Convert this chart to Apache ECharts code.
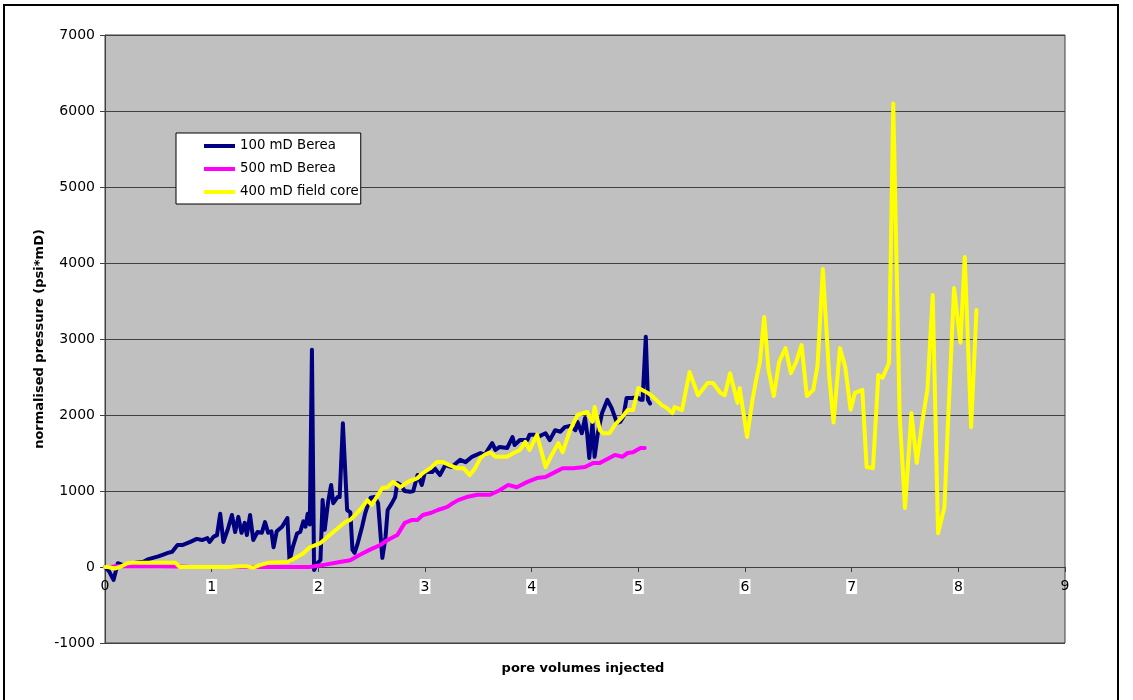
<!DOCTYPE html>
<html>
<head>
<meta charset="utf-8">
<script src="https://cdn.jsdelivr.net/npm/echarts@6/dist/echarts.min.js"></script>
<style>
  html, body { margin: 0; padding: 0; background: #ffffff; }
  #chart { width: 1133px; height: 700px; }
</style>
</head>
<body>
<div id="chart"></div>
<script>
// Pressure build-up during foam injection in three cores
const seriesNames = ['100 mD Berea', '500 mD Berea', '400 mD field core'];
const xTickLabels = ['0', '1', '2', '3', '4', '5', '6', '7', '8', '9'];
const yTickLabels = ['-1000', '0', '1000', '2000', '3000', '4000', '5000', '6000', '7000'];

// 100 mD Berea: pore volumes injected / normalised pressure (psi*mD)
const berea100PV = [
  0.00, 0.04, 0.08, 0.12, 0.17, 0.23, 0.30, 0.36, 0.40, 0.45, 0.50, 0.54, 0.59, 0.63, 0.68, 0.73,
  0.80, 0.86, 0.91, 0.96, 0.98, 1.02, 1.05, 1.08, 1.11, 1.15, 1.19, 1.22, 1.25, 1.28, 1.31, 1.33,
  1.36, 1.39, 1.43, 1.47, 1.50, 1.53, 1.56, 1.58, 1.61, 1.66, 1.71, 1.73, 1.76, 1.80, 1.83, 1.86,
  1.88, 1.90, 1.92, 1.94, 1.96, 1.99, 2.02, 2.04, 2.06, 2.09, 2.12, 2.14, 2.18, 2.20, 2.23, 2.27,
  2.30, 2.32, 2.34, 2.37, 2.41, 2.44, 2.47, 2.49, 2.53, 2.56, 2.60, 2.63, 2.65, 2.69, 2.72, 2.74,
  2.77, 2.81, 2.86, 2.89, 2.93, 2.97, 3.00, 3.07, 3.09, 3.14, 3.19, 3.25, 3.33, 3.38, 3.44, 3.52,
  3.56, 3.63, 3.66, 3.70, 3.77, 3.82, 3.84, 3.89, 3.96, 3.98, 4.03, 4.06, 4.10, 4.13, 4.17, 4.22,
  4.27, 4.31, 4.36, 4.41, 4.43, 4.47, 4.50, 4.52, 4.54, 4.57, 4.59, 4.62, 4.66, 4.71, 4.75, 4.80,
  4.83, 4.86, 4.89, 4.94, 4.99, 5.02, 5.04, 5.07, 5.09, 5.11
];
const berea100P = [
  0, -60, -170, 50, 25, 40, 60, 70, 100, 120, 140, 160, 185, 200, 290, 290,
  330, 370, 355, 380, 330, 400, 420, 700, 330, 490, 685, 460, 660, 450, 580, 420,
  685, 355, 460, 450, 590, 450, 470, 260, 470, 530, 645, 80, 260, 440, 460, 600,
  530, 700, 560, 2860, -40, 50, 90, 880, 490, 840, 1080, 840, 920, 920, 1890, 750,
  720, 225, 185, 315, 530, 710, 840, 910, 920, 840, 120, 395, 750, 840, 920, 1105,
  1080, 1000, 990, 1000, 1210, 1080, 1250, 1250, 1300, 1210, 1340, 1315, 1410, 1380, 1450, 1500,
  1475, 1630, 1540, 1580, 1565, 1710, 1605, 1670, 1670, 1740, 1740, 1710, 1740, 1760, 1670, 1800,
  1780, 1840, 1855, 1800, 1910, 1760, 1960, 1760, 1435, 1895, 1450, 1760, 2025, 2200, 2090, 1895,
  1910, 1975, 2225, 2225, 2235, 2200, 2200, 3030, 2200, 2150
];

// 500 mD Berea
const berea500PV = [
  0.05, 0.10, 0.30, 0.50, 0.68, 0.80, 1.00, 1.30, 1.60, 1.80, 1.92, 2.04, 2.20, 2.30, 2.39, 2.48,
  2.58, 2.65, 2.74, 2.81, 2.88, 2.93, 2.98, 3.05, 3.12, 3.21, 3.26, 3.31, 3.39, 3.49, 3.61, 3.70,
  3.78, 3.86, 3.96, 4.05, 4.13, 4.20, 4.29, 4.39, 4.50, 4.58, 4.64, 4.71, 4.78, 4.85, 4.90, 4.95,
  5.02, 5.06
];
const berea500P = [
  0, 10, 10, 10, 5, 0, 0, 0, 0, 0, 0, 25, 65, 90, 160, 225,
  290, 355, 420, 580, 620, 620, 685, 710, 750, 790, 840, 880, 920, 950, 950, 1010,
  1080, 1050, 1120, 1170, 1185, 1235, 1300, 1300, 1315, 1370, 1370, 1420, 1475, 1450, 1500, 1510,
  1565, 1565
];

// 400 mD field core
const fieldCorePV = [
  0.00, 0.03, 0.09, 0.14, 0.21, 0.26, 0.42, 0.56, 0.66, 0.70, 0.89, 0.98, 1.17, 1.27, 1.33, 1.39,
  1.45, 1.53, 1.71, 1.80, 1.86, 1.92, 2.02, 2.14, 2.25, 2.30, 2.39, 2.46, 2.50, 2.60, 2.65, 2.70,
  2.77, 2.84, 2.93, 2.98, 3.05, 3.11, 3.17, 3.23, 3.30, 3.36, 3.42, 3.47, 3.52, 3.56, 3.61, 3.66,
  3.77, 3.83, 3.89, 3.94, 3.98, 4.05, 4.13, 4.19, 4.25, 4.29, 4.36, 4.43, 4.52, 4.57, 4.59, 4.64,
  4.67, 4.73, 4.78, 4.85, 4.90, 4.95, 5.00, 5.09, 5.14, 5.22, 5.27, 5.32, 5.34, 5.41, 5.48, 5.56,
  5.65, 5.70, 5.77, 5.81, 5.86, 5.93, 5.95, 6.02, 6.07, 6.11, 6.14, 6.18, 6.22, 6.27, 6.32, 6.38,
  6.43, 6.48, 6.53, 6.58, 6.64, 6.68, 6.73, 6.79, 6.83, 6.89, 6.94, 6.99, 7.03, 7.10, 7.14, 7.20,
  7.25, 7.29, 7.35, 7.39, 7.45, 7.50, 7.56, 7.61, 7.66, 7.71, 7.76, 7.81, 7.87, 7.90, 7.96, 8.02,
  8.06, 8.12, 8.17
];
const fieldCoreP = [
  0, 0, -20, 0, 50, 55, 55, 55, 55, 0, 0, 0, 0, 10, 10, -10,
  25, 55, 65, 130, 180, 260, 315, 460, 590, 620, 750, 880, 815, 1040, 1050, 1120,
  1050, 1120, 1170, 1235, 1300, 1380, 1380, 1340, 1300, 1300, 1210, 1300, 1435, 1475, 1510, 1450,
  1450, 1500, 1540, 1645, 1540, 1740, 1315, 1480, 1630, 1510, 1800, 2000, 2040, 1910, 2105, 1800,
  1760, 1760, 1870, 1975, 2065, 2065, 2355, 2290, 2235, 2130, 2090, 2025, 2105, 2065, 2565, 2260,
  2420, 2420, 2290, 2260, 2550, 2160, 2355, 1710, 2200, 2500, 2700, 3290, 2600, 2250, 2700, 2880,
  2550, 2700, 2920, 2250, 2330, 2650, 3920, 2500, 1900, 2880, 2630, 2070, 2290, 2330, 1315, 1300,
  2525, 2490, 2685, 6100, 2000, 775, 2025, 1370, 1895, 2330, 3580, 445, 790, 1800, 3670, 2950,
  4080, 1840, 3380
];

const seriesColors = ['#000080', '#ff00ff', '#ffff00'];
const pairs = (xs, ys) => xs.map((x, i) => [x, ys[i]]);
const seriesData = [
  pairs(berea100PV, berea100P),
  pairs(berea500PV, berea500P),
  pairs(fieldCorePV, fieldCoreP)
];

const FONT = 'DejaVu Sans';
const Y_MIN = -1000, Y_MAX = 7000;
const GRID = { left: 105, right: 68, top: 35, bottom: 57 };
const plotHeight = 700 - GRID.top - GRID.bottom;
// lift the x axis (line, ticks, labels) from the bottom edge up to y = 0
const zeroOffset = -plotHeight * (0 - Y_MIN) / (Y_MAX - Y_MIN);

const chart = echarts.init(document.getElementById('chart'), null, { renderer: 'canvas' });

chart.setOption({
  animation: false,
  backgroundColor: '#ffffff',
  textStyle: { fontFamily: FONT },
  grid: Object.assign({
    show: true,
    backgroundColor: '#c0c0c0',
    borderColor: '#404040',
    borderWidth: 1
  }, GRID),
  legend: {
    orient: 'vertical',
    left: 176, top: 133,
    data: seriesNames,
    icon: 'rect',
    itemWidth: 31,
    itemHeight: 4,
    itemGap: 9,
    padding: [6, 2, 5, 28],
    backgroundColor: '#ffffff',
    borderColor: '#000000',
    borderWidth: 1,
    borderRadius: 0,
    selectedMode: false,
    textStyle: { fontFamily: FONT, fontSize: 13.3, color: '#000000', lineHeight: 14 }
  },
  xAxis: {
    type: 'value',
    min: 0, max: 9, interval: 1,
    position: 'bottom',
    offset: zeroOffset,
    axisLine: { show: true, onZero: false, lineStyle: { color: '#404040', width: 1 } },
    axisTick: { show: true, inside: false, length: 5, lineStyle: { color: '#404040' } },
    splitLine: { show: false },
    axisLabel: {
      margin: 12,
      color: '#000000',
      fontFamily: FONT,
      fontSize: 14,
      formatter: v => {
        const s = xTickLabels[Math.round(v)];
        return (v > 0 && v < 9) ? '{box|' + s + '}' : s;
      },
      rich: {
        box: { backgroundColor: '#ffffff', padding: [1, 1, 0, 1], fontFamily: FONT, fontSize: 14, color: '#000000' }
      }
    }
  },
  yAxis: {
    type: 'value',
    min: Y_MIN, max: Y_MAX, interval: 1000,
    axisLine: { show: true, onZero: false, lineStyle: { color: '#404040', width: 1 } },
    axisTick: { show: true, inside: false, length: 5, lineStyle: { color: '#404040' } },
    splitLine: { show: true, lineStyle: { color: '#404040', width: 1 } },
    axisLabel: {
      margin: 10,
      color: '#000000',
      fontFamily: FONT,
      fontSize: 14,
      formatter: v => yTickLabels[Math.round((v - Y_MIN) / 1000)]
    }
  },
  series: seriesNames.map((name, i) => ({
    name,
    type: 'line',
    data: seriesData[i],
    showSymbol: false,
    symbol: 'none',
    color: seriesColors[i],
    lineStyle: { color: seriesColors[i], width: 4, cap: 'round', join: 'round' },
    z: 2 + i
  })),
  graphic: [
    {
      type: 'rect',
      shape: { x: 4, y: 5, width: 1114, height: 720 },
      style: { fill: 'none', stroke: '#000000', lineWidth: 2 },
      silent: true,
      z: 100
    },
    {
      type: 'text',
      x: 40, y: 339,
      rotation: Math.PI / 2,
      style: {
        text: 'normalised pressure (psi*mD)',
        fontFamily: FONT, fontSize: 13, fontWeight: 'bold', fill: '#000000',
        align: 'center', verticalAlign: 'middle'
      }
    },
    {
      type: 'text',
      x: 583, y: 669,
      style: {
        text: 'pore volumes injected',
        fontFamily: FONT, fontSize: 13, fontWeight: 'bold', fill: '#000000',
        align: 'center', verticalAlign: 'middle'
      }
    }
  ]
});
</script>
</body>
</html>
